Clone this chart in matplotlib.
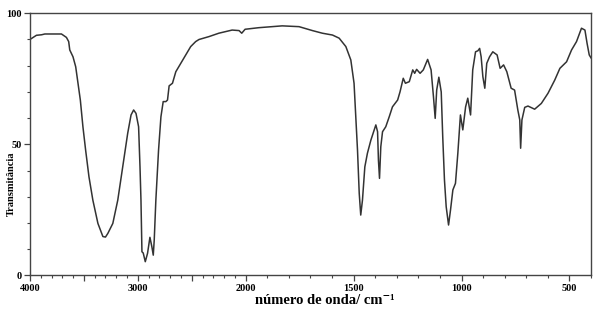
import numpy as np
import matplotlib
matplotlib.use("Agg")
import matplotlib.pyplot as plt
from matplotlib.ticker import FixedLocator, FixedFormatter

# IR spectrum (wavenumber cm-1, transmittance %)
wavenumber = [4000, 3970, 3940, 3892, 3862, 3708, 3662, 3641, 3631, 3601,
              3576, 3555, 3533, 3509, 3484, 3453, 3417, 3370, 3324, 3300,
              3278, 3232, 3186, 3140, 3094, 3063, 3039, 3017, 2993, 2980,
              2971, 2962, 2950, 2931, 2910, 2888, 2870, 2857, 2848, 2833,
              2808, 2786, 2765, 2740, 2725, 2710, 2679, 2648, 2602, 2556,
              2510, 2464, 2433, 2341, 2249, 2126, 2062, 2037, 2006, 1940,
              1831, 1753, 1691, 1645, 1598, 1567, 1536, 1513, 1498, 1490,
              1482, 1474, 1467, 1459, 1448, 1436, 1420, 1397, 1389, 1385,
              1380, 1374, 1366, 1351, 1335, 1320, 1296, 1285, 1270, 1260,
              1242, 1226, 1217, 1208, 1192, 1177, 1157, 1141, 1130, 1122,
              1115, 1105, 1094, 1087, 1079, 1071, 1060, 1051, 1040, 1028,
              1017, 1005, 994, 981, 971, 958, 948, 935, 924, 916,
              909, 901, 892, 883, 870, 855, 835, 821, 805, 790,
              770, 754, 739, 730, 726, 720, 707, 692, 661, 630,
              599, 568, 544, 513, 490, 467, 444, 428, 418, 408, 400]
transmittance = [90.0, 90.8, 91.6, 91.8, 92.1, 92.1, 90.8, 89.2, 86.0, 83.4,
                 79.6, 73.3, 66.9, 56.7, 47.8, 37.6, 28.7, 19.8, 14.8, 14.6,
                 16.0, 19.8, 28.7, 41.4, 54.2, 61.2, 63.1, 61.8, 56.7, 41.4,
                 28.7, 9.0, 8.5, 5.2, 8.4, 14.5, 10.9, 7.7, 13.5, 28.7,
                 47.8, 60.5, 66.3, 66.3, 66.9, 72.3, 73.3, 77.7, 80.9, 84.1,
                 87.3, 89.2, 90.0, 91.1, 92.4, 93.6, 93.4, 92.4, 93.9, 94.5,
                 95.2, 94.9, 93.4, 92.4, 91.7, 90.5, 87.3, 82.2, 73.3, 60.5,
                 47.8, 31.3, 23.0, 28.7, 41.4, 46.6, 51.6, 57.4, 54.8, 44.0,
                 37.0, 49.1, 54.8, 56.7, 60.5, 64.3, 66.9, 70.0, 75.2, 73.3,
                 73.9, 78.4, 77.1, 78.6, 77.1, 78.4, 82.4, 78.4, 68.2, 59.9,
                 70.7, 75.6, 70.0, 52.9, 36.4, 26.2, 19.2, 24.9, 32.6, 35.1,
                 46.6, 61.2, 55.5, 64.3, 67.6, 61.2, 78.4, 85.3, 85.7, 86.6,
                 83.4, 75.8, 71.4, 80.9, 83.4, 85.3, 84.1, 79.0, 80.3, 77.7,
                 71.4, 70.7, 63.1, 59.3, 48.5, 59.3, 64.1, 64.6, 63.4, 65.6,
                 69.5, 74.5, 79.0, 81.5, 86.0, 89.2, 94.3, 93.6, 88.5, 84.1, 83.0]

xticks = [4000, 3500, 3000, 2500, 2000, 1500, 1000, 500]
xtick_labels = ["4000", "", "3000", "", "2000", "1500", "1000", "500"]
yticks = [0, 50, 100]

serif = ["Liberation Serif", "DejaVu Serif"]


# spectrometer axis: scale halves above 2000 cm-1
def fwd(w):
    w = np.asarray(w, dtype=float)
    return np.where(w > 2000, 2000 + (w - 2000) / 2, w)


def inv(u):
    u = np.asarray(u, dtype=float)
    return np.where(u > 2000, 2000 + (u - 2000) * 2, u)


fig = plt.figure(figsize=(5.99, 3.09), dpi=100)
ax = fig.add_axes([0.050, 0.109, 0.9366, 0.848])
ax.set_xscale("function", functions=(fwd, inv))
ax.plot(wavenumber, transmittance, color="#333333", linewidth=1.1)

ax.set_xlim(4000, 400)
ax.set_ylim(0, 100)

ax.xaxis.set_major_locator(FixedLocator(xticks))
ax.xaxis.set_major_formatter(FixedFormatter(xtick_labels))
ax.xaxis.set_minor_locator(FixedLocator(list(range(400, 4001, 100))))
ax.yaxis.set_major_locator(FixedLocator(yticks))
ax.yaxis.set_minor_locator(FixedLocator(list(range(0, 101, 10))))

ax.tick_params(which="major", length=4, width=0.9, color="#444444", pad=2)
ax.tick_params(which="minor", length=2, width=0.8, color="#444444")
for lab in ax.get_xticklabels() + ax.get_yticklabels():
    lab.set_fontfamily(serif)
    lab.set_fontweight("bold")
    lab.set_fontsize(7.5)

for sp in ax.spines.values():
    sp.set_color("#444444")
    sp.set_linewidth(1.0)

ax.set_xlabel("número de onda/ cm⁻¹", family=serif, fontweight="bold", fontsize=10.5)
ax.xaxis.set_label_coords(0.526, -0.072)
ax.set_ylabel("Transmitância", family=serif, fontweight="bold", fontsize=7.5)
ax.yaxis.set_label_coords(-0.025, 0.35)

fig.savefig("out.png", dpi=100)
